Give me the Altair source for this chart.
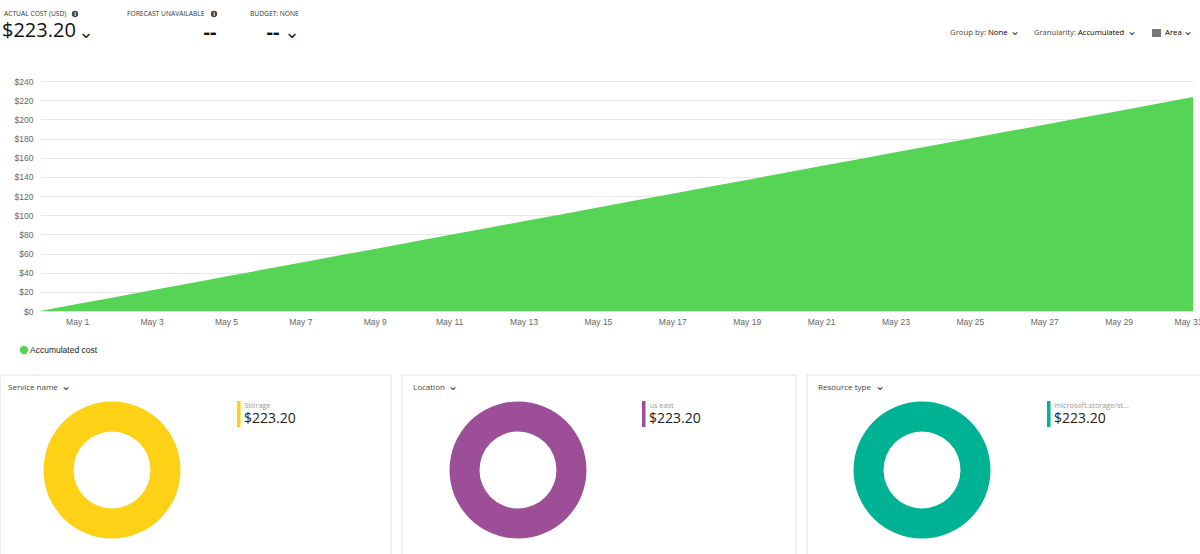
import altair as alt
import pandas as pd

# ---------------- data ----------------
day_index = list(range(0, 32))  # 0 = start (Apr 30), 1..31 = May 1..31
accumulated_cost = [0.0, 7.2, 14.4, 21.6, 28.8, 36.0, 43.2, 50.4, 57.6, 64.8,
                    72.0, 79.2, 86.4, 93.6, 100.8, 108.0, 115.2, 122.4, 129.6,
                    136.8, 144.0, 151.2, 158.4, 165.6, 172.8, 180.0, 187.2,
                    194.4, 201.6, 208.8, 216.0, 223.2]
x_tick_days = [1, 3, 5, 7, 9, 11, 13, 15, 17, 19, 21, 23, 25, 27, 29, 31]
y_ticks = [0, 20, 40, 60, 80, 100, 120, 140, 160, 180, 200, 220, 240]

panel_titles = ["Service name", "Location", "Resource type"]
panel_items = ["Storage", "us east", "microsoft.storage/st..."]
panel_values = [223.20, 223.20, 223.20]
panel_colors = ["#fcd116", "#9c4f96", "#00b294"]

AREA_COLOR = "#55d455"
FONT = "Open Sans"

LEFT, TOP, W, H = 40, 81, 1153, 230
RIGHT = 1200 - LEFT - W
BOTTOM = 554 - TOP - H

df = pd.DataFrame({"day": day_index, "cost": accumulated_cost})

area = alt.Chart(df).mark_area(color=AREA_COLOR, opacity=1).encode(
    x=alt.X("day:Q", scale=alt.Scale(domain=[0, 31], nice=False, zero=False),
            axis=alt.Axis(values=x_tick_days, labelExpr="'May ' + datum.value",
                          title=None, grid=False, domain=False, ticks=False,
                          labelFlush=False, labelFont="Liberation Sans",
                          labelOffset=alt.ExprRef("datum.value == 31 ? -5 : 0"),
                          labelFontSize=8.5, labelColor="#666", labelPadding=6)),
    y=alt.Y("cost:Q", scale=alt.Scale(domain=[0, 240], nice=False),
            axis=alt.Axis(values=y_ticks, labelExpr="'$' + datum.value",
                          title=None, grid=True, gridColor="#e8e8e8",
                          domain=False, ticks=False, labelFont="Liberation Sans",
                          labelFontSize=8.5, labelColor="#666", labelPadding=7)),
)


def txt(s, x, y, size, color="#333", weight="normal", align="left", font=FONT):
    return alt.Chart(pd.DataFrame({"t": [s]})).mark_text(
        align=align, baseline="middle", fontSize=size, color=color,
        fontWeight=weight, font=font
    ).encode(x=alt.value(x - LEFT), y=alt.value(y - TOP), text="t:N")


def chevron(x, y, size=14, color="#333"):
    return txt("\u2304", x, y, size, color=color, align="center", font="DejaVu Sans")


def dot(x, y, size, color):
    return alt.Chart(pd.DataFrame({"t": [1]})).mark_point(
        filled=True, size=size, color=color, opacity=1, shape="circle"
    ).encode(x=alt.value(x - LEFT), y=alt.value(y - TOP))


def box(x1, y1, x2, y2, stroke=None, fill=None, sw=1.5):
    kw = {}
    if stroke is not None:
        kw["stroke"] = stroke
        kw["strokeWidth"] = sw
    if fill is not None:
        kw["fill"] = fill
    else:
        kw["fillOpacity"] = 0
    return alt.Chart(pd.DataFrame({"t": [1]})).mark_rect(**kw).encode(
        x=alt.value(x1 - LEFT), x2=alt.value(x2 - LEFT),
        y=alt.value(y1 - TOP), y2=alt.value(y2 - TOP))


layers = [area]

# header
layers += [
    txt("ACTUAL COST (USD)", 4, 14, 6.7, color="#333"),
    dot(75, 14, 40, "#444"), txt("i", 75, 14, 5.5, color="white", weight="bold", align="center"),
    txt("$223.20", 2, 31, 20, color="#111"),
    chevron(86, 33, 18, "#222"),
    txt("FORECAST UNAVAILABLE", 127, 14, 6.7, color="#333"),
    dot(214, 14, 40, "#444"), txt("i", 214, 14, 5.5, color="white", weight="bold", align="center"),
    txt("--", 210, 33, 20, color="#111", weight="bold", align="center"),
    txt("BUDGET: NONE", 250, 14, 6.7, color="#333"),
    txt("--", 273, 33, 20, color="#111", weight="bold", align="center"),
    chevron(292, 33, 18, "#222"),
]

# top-right controls
layers += [
    txt("Group by:", 950, 33, 7.8, color="#444"),
    txt("None", 988, 33, 7.8, color="#000"),
    chevron(1015, 31, 12, "#444"),
    txt("Granularity:", 1034, 33, 7.6, color="#444"),
    txt("Accumulated", 1078, 33, 7.6, color="#000"),
    chevron(1132, 31, 12, "#444"),
    box(1152, 29, 1161, 37, fill="#777"),
    txt("Area", 1165, 33, 7.8, color="#000"),
    chevron(1188, 31, 12, "#444"),
]

# legend
layers += [
    dot(24, 350, 70, AREA_COLOR),
    txt("Accumulated cost", 30, 350, 8.5, color="#222", font="Liberation Sans"),
]

# bottom panels
panel_x = [(0, 391), (402, 796), (807, 1210)]
title_x = [8, 413, 818]
chev_x = [66, 453, 880]
donut_cx = [112, 518, 922]
legend_x = [237, 642, 1047]
for i in range(3):
    x1, x2 = panel_x[i]
    layers.append(box(x1, 375, x2, 570, stroke="#ececec"))
    layers.append(txt(panel_titles[i], title_x[i], 388, 8, color="#444"))
    layers.append(chevron(chev_x[i], 386, 12, "#444"))
    donut = alt.Chart(pd.DataFrame({"item": [panel_items[i]], "v": [panel_values[i]]})).mark_arc(
        radius=68.5, radius2=38.5, color=panel_colors[i]
    ).encode(theta=alt.Theta("v:Q"), x=alt.value(donut_cx[i] - LEFT), y=alt.value(470 - TOP))
    layers.append(donut)
    layers.append(box(legend_x[i], 401, legend_x[i] + 3.5, 427, fill=panel_colors[i]))
    layers.append(txt(panel_items[i], legend_x[i] + 7.5, 406, 7.3, color="#999"))
    layers.append(txt("$" + format(panel_values[i], ".2f"), legend_x[i] + 7, 419, 14, color="#222"))

chart = alt.layer(*layers).properties(
    width=W, height=H,
    padding={"left": LEFT, "top": TOP, "right": RIGHT, "bottom": BOTTOM},
    autosize="none", background="white",
).configure_view(stroke=None)

chart.save("out.html", embed_options={"renderer": "svg", "actions": False})
